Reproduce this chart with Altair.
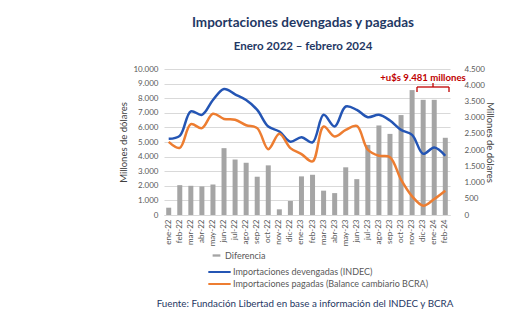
import altair as alt
import pandas as pd

months = ['ene-22','feb-22','mar-22','abr-22','may-22','jun-22','jul-22','ago-22','sep-22','oct-22','nov-22','dic-22',
          'ene-23','feb-23','mar-23','abr-23','may-23','jun-23','jul-23','ago-23','sep-23','oct-23','nov-23','dic-23',
          'ene-24','feb-24']
devengadas = [5220,5420,7100,6860,7880,8630,8270,7880,7200,6060,5720,5020,
              5330,4970,6860,6060,7430,7200,6700,6860,6470,5830,5490,4190,
              4620,4060]
pagadas = [5010,4600,6220,5950,6930,6580,6520,6150,5950,4510,5560,4580,
           4170,3670,6060,5380,5830,6100,4470,4060,3960,2420,1280,640,
           1090,1660]
diferencia = [225,920,900,880,940,2060,1710,1610,1180,1530,175,430,
              1190,1240,750,675,1470,1105,2160,2760,2500,3080,3850,3550,
              3550,2380]

S_DIF = "Diferencia"
S_DEV = "Importaciones devengadas (INDEC)"
S_PAG = "Importaciones pagadas (Balance cambiario BCRA)"

bars_df = pd.DataFrame({"mes": months, "valor": diferencia, "serie": S_DIF})
lines_df = pd.concat([
    pd.DataFrame({"mes": months, "valor": devengadas, "serie": S_DEV}),
    pd.DataFrame({"mes": months, "valor": pagadas, "serie": S_PAG}),
])

FONT = "Lato"
LBL = "#595959"
NAVY = "#1F3864"
fmt = "replace(format(datum.value, ','), ',', '.')"

x_enc = alt.X("mes:N", sort=months, title=None,
              scale=alt.Scale(paddingInner=0.55, paddingOuter=0.2),
              axis=alt.Axis(labelAngle=-90, labelFontSize=8, labelColor=LBL, labelFont=FONT,
                            ticks=False, domain=True, domainColor="#D9D9D9", labelPadding=4))

bars = alt.Chart(bars_df).mark_bar(size=5).encode(
    x=x_enc,
    y=alt.Y("valor:Q", title="Millones de dólares",
            scale=alt.Scale(domain=[0, 4500]),
            axis=alt.Axis(orient="right", values=list(range(0, 4501, 500)), labelExpr=fmt,
                          grid=False, domain=False, ticks=False, labelFontSize=8, labelColor=LBL,
                          labelFont=FONT, labelPadding=14, titleFont=FONT, titleFontSize=9.5,
                          titleFontWeight="normal", titleColor="#404040", titlePadding=0)),
    fill=alt.Fill("serie:N", scale=alt.Scale(domain=[S_DIF], range=["#A5A5A5"]),
                  legend=alt.Legend(title=None, orient="none", legendX=48, legendY=182,
                                    symbolType="M-1,-0.3H1V0.3H-1Z", symbolSize=60,
                                    labelFontSize=9, labelColor=LBL, labelFont=FONT,
                                    symbolStrokeWidth=0, labelLimit=400)),
)

lines = alt.Chart(lines_df).mark_line(strokeWidth=2.5, interpolate="catmull-rom").encode(
    x=alt.X("mes:N", sort=months),
    y=alt.Y("valor:Q", title="Millones de dólares",
            scale=alt.Scale(domain=[0, 10000]),
            axis=alt.Axis(orient="left", values=list(range(0, 10001, 1000)), labelExpr=fmt,
                          grid=True, gridColor="#D9D9D9", domain=False, ticks=False,
                          labelFontSize=8, labelColor=LBL, labelFont=FONT, labelPadding=6,
                          titleFont=FONT, titleFontSize=9.5, titleFontWeight="normal",
                          titleColor="#404040", titlePadding=4)),
    stroke=alt.Stroke("serie:N", sort=[S_DEV, S_PAG],
                      scale=alt.Scale(domain=[S_DEV, S_PAG], range=["#2455B4", "#ED7D31"]),
                      legend=alt.Legend(title=None, orient="none", legendX=43, legendY=197,
                                        symbolType="stroke", symbolSize=500, symbolStrokeWidth=2,
                                        labelFontSize=9, labelColor=LBL, labelFont=FONT,
                                        clipHeight=12, rowPadding=0, labelOffset=1,
                                        labelLimit=400)),
)

def text_layer(txt, x, y, size, color, weight="normal"):
    return alt.Chart(pd.DataFrame({"t": [txt]})).mark_text(
        fontSize=size, font=FONT, color=color, fontWeight=weight, align="center", baseline="middle"
    ).encode(text="t:N", x=alt.value(x), y=alt.value(y))

title1 = text_layer("Importaciones devengadas y pagadas", 139, -46, 13.5, NAVY, "bold")
title2 = text_layer("Enero 2022 \u2013 febrero 2024", 139, -22, 11.5, NAVY, "bold")
source = text_layer("Fuente: Fundación Libertad en base a información del INDEC y BCRA", 141, 235, 9.8, NAVY)
annot = text_layer("+u$s 9.481 millones", 259, 8.5, 9.6, "#C00000", "bold")

red = "#C00000"
bracket_df = pd.DataFrame({"k": [0]})
br_h = alt.Chart(bracket_df).mark_rule(color=red, strokeWidth=1.3).encode(
    x=alt.value(253), x2=alt.value(285), y=alt.value(18))
br_l = alt.Chart(bracket_df).mark_rule(color=red, strokeWidth=1.3).encode(
    x=alt.value(253), y=alt.value(18), y2=alt.value(23))
br_r = alt.Chart(bracket_df).mark_rule(color=red, strokeWidth=1.3).encode(
    x=alt.value(285), y=alt.value(18), y2=alt.value(23))
br_m = alt.Chart(bracket_df).mark_rule(color=red, strokeWidth=1.3).encode(
    x=alt.value(269), y=alt.value(14), y2=alt.value(18))

chart = alt.layer(bars, lines, title1, title2, source, annot, br_h, br_l, br_r, br_m).resolve_scale(
    y="independent", fill="independent", stroke="independent"
).properties(
    width=286, height=146,
    autosize=alt.AutoSizeParams(type="none"),
    padding={"left": 164, "top": 69, "right": 67, "bottom": 109},
    background="white",
).configure_view(stroke=None)

chart.save("out.html", embed_options={"renderer": "svg", "actions": False})
